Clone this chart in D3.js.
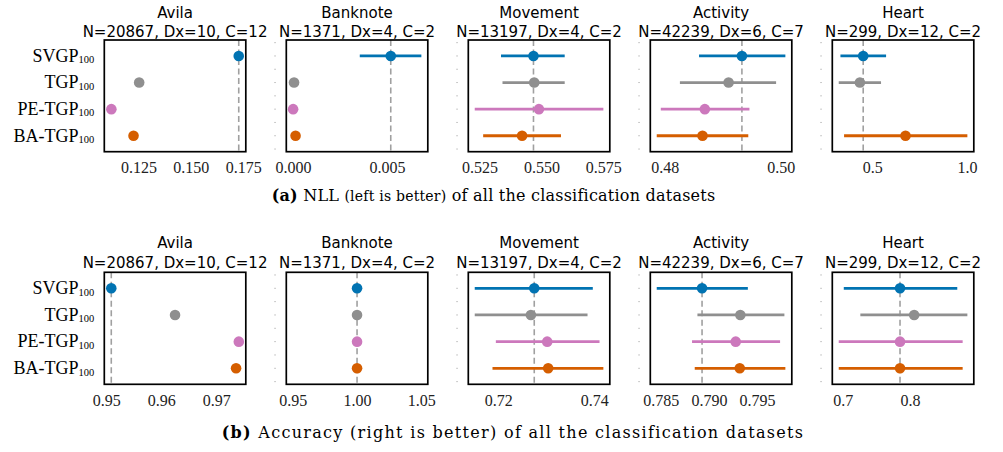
<!DOCTYPE html>
<html>
<head>
<meta charset="utf-8">
<script src="https://cdn.jsdelivr.net/npm/d3@7"></script>
<style>
  body { margin: 0; background: #fff; }
  svg { display: block; }
</style>
</head>
<body>
<svg id="fig" width="1003" height="452"></svg>
<script>
// Methods (rows of every panel) and their colours
const methods = ["SVGP", "TGP", "PE-TGP", "BA-TGP"];
const methodColors = ["#0173b2", "#8f8f8f", "#cc78bc", "#d55e00"];

// Datasets (columns)
const datasets = ["Avila", "Banknote", "Movement", "Activity", "Heart"];
const datasetInfo = [
  "N=20867, Dx=10, C=12",
  "N=1371, Dx=4, C=2",
  "N=13197, Dx=4, C=2",
  "N=42239, Dx=6, C=7",
  "N=299, Dx=12, C=2"
];

// Test NLL: mean and interval ends, per dataset, per method (null = not available)
const nllMean = [
  [0.1729, 0.1253, 0.1120, 0.1226],
  [0.00520, 0.00005, 0.00000, 0.00013],
  [0.5468, 0.5471, 0.5490, 0.5422],
  [0.4933, 0.4910, 0.4869, 0.4865],
  [0.4521, 0.4346, null, 0.6755]
];
const nllLow = [
  [0.1726, 0.1250, 0.1117, 0.1223],
  [0.00355, 0.00003, -0.00002, 0.00011],
  [0.5337, 0.5343, 0.5231, 0.5265],
  [0.4859, 0.4826, 0.4793, 0.4786],
  [0.3319, 0.3229, null, 0.3511]
];
const nllHigh = [
  [0.1732, 0.1256, 0.1123, 0.1229],
  [0.00683, 0.00007, 0.00002, 0.00015],
  [0.5594, 0.5594, 0.5750, 0.5579],
  [0.5008, 0.4992, 0.4946, 0.4944],
  [0.5729, 0.5463, null, 1.0021]
];

// Test accuracy: mean and interval ends, per dataset, per method
const accMean = [
  [0.9509, 0.9625, 0.9741, 0.9736],
  [1.0, 1.0, 1.0, 1.0],
  [0.7275, 0.7268, 0.7302, 0.7304],
  [0.78929, 0.79327, 0.79279, 0.79321],
  [0.7850, 0.8060, 0.7850, 0.7850]
];
const accLow = [
  [0.9508, 0.9624, 0.9740, 0.9735],
  [1.0, 1.0, 1.0, 1.0],
  [0.7151, 0.7151, 0.7195, 0.7188],
  [0.78458, 0.78881, 0.78825, 0.78853],
  [0.7015, 0.7261, 0.6940, 0.6940]
];
const accHigh = [
  [0.9510, 0.9626, 0.9742, 0.9737],
  [1.0, 1.0, 1.0, 1.0],
  [0.7397, 0.7386, 0.7411, 0.7419],
  [0.79405, 0.79785, 0.79740, 0.79795],
  [0.8700, 0.8850, 0.8780, 0.8780]
];

// Tick values and formats of the x axes
const nllTicks = [[0.125, 0.150, 0.175], [0.000, 0.005], [0.525, 0.550, 0.575], [0.48, 0.50], [0.5, 1.0]];
const nllTickFormats = [".3f", ".3f", ".3f", ".2f", ".1f"];
const accTicks = [[0.95, 0.96, 0.97], [0.95, 1.00, 1.05], [0.72, 0.74], [0.785, 0.790, 0.795], [0.7, 0.8]];
const accTickFormats = [".2f", ".2f", ".2f", ".3f", ".1f"];

// Sub-figure captions
const captions = [
  { tag: "(a)", head: "NLL", note: "(left is better)", tail: "of all the classification datasets" },
  { tag: "(b)", head: "Accuracy", note: "(right is better)", tail: "of all the classification datasets" }
];

// ---------------------------------------------------------------------------
const svg = d3.select("#fig");
const SERIF = "'Liberation Serif', 'DejaVu Serif', serif";
const CAPTION_SERIF = "'DejaVu Serif', 'Liberation Serif', serif";
const SANS = "'DejaVu Sans', 'Liberation Sans', sans-serif";

const panelLeft0 = 104.3, panelStep = 182, panelW = 141.5;

const rows = [
  { mean: nllMean, low: nllLow, high: nllHigh, ticks: nllTicks, fmts: nllTickFormats,
    top: 40, h: 111.7, title1: 18.3, title2: 36.6, tickPad: 10, caption: captions[0],
    capX: 271.7, capY: 200.5, capW: 443, noteSize: 14 },
  { mean: accMean, low: accLow, high: accHigh, ticks: accTicks, fmts: accTickFormats,
    top: 272.3, h: 112, title1: 248.3, title2: 268.3, tickPad: 10.8, caption: captions[1],
    capX: 221.7, capY: 437.5, capW: 581, noteSize: 16 }
];

// matplotlib-style autoscaling: expand a degenerate range, then add 5% margins
function autoDomain(lo, hi) {
  let a = d3.min(lo), b = d3.max(hi);
  if (b - a < 1e-12) {
    a -= 0.05 * Math.abs(a);
    b += 0.05 * Math.abs(b);
  }
  const m = (b - a) * 0.05;
  return [a - m, b + m];
}

rows.forEach((row) => {
  const y = d3.scaleLinear().domain([-0.6, 3.6]).range([row.top, row.top + row.h]);

  datasets.forEach((name, di) => {
    const x0 = panelLeft0 + di * panelStep;
    const lo = row.low[di].filter(v => v !== null);
    const hi = row.high[di].filter(v => v !== null);
    const x = d3.scaleLinear().domain(autoDomain(lo, hi)).range([x0, x0 + panelW]);
    const g = svg.append("g");

    // Titles
    g.append("text").attr("x", x0 + panelW / 2).attr("y", row.title1)
      .attr("text-anchor", "middle").attr("font-family", SANS).attr("font-size", 15)
      .attr("fill", "#000").text(name);
    g.append("text").attr("x", x0 + panelW / 2).attr("y", row.title2)
      .attr("text-anchor", "middle").attr("font-family", SANS).attr("font-size", 15)
      .attr("fill", "#000").text(datasetInfo[di]);

    // Faint y tick marks on the shared-axis panels
    if (di > 0) {
      g.selectAll("line.ytick").data(d3.range(-0.5, 3.51, 0.5)).enter()
        .append("line").attr("class", "ytick")
        .attr("x1", x0 - 12).attr("x2", x0 - 10.5)
        .attr("y1", d => y(d)).attr("y2", d => y(d))
        .attr("stroke", "#b8b8b8").attr("stroke-width", 1);
    }

    // Reference line at the SVGP mean
    g.append("line")
      .attr("x1", x(row.mean[di][0])).attr("x2", x(row.mean[di][0]))
      .attr("y1", row.top).attr("y2", row.top + row.h)
      .attr("stroke", "#a0a0a0").attr("stroke-width", 1.6)
      .attr("stroke-dasharray", "6,3.5");

    const pts = methods.map((m, mi) => ({
      mi, mean: row.mean[di][mi], lo: row.low[di][mi], hi: row.high[di][mi]
    })).filter(d => d.mean !== null);

    // Interval bars
    g.selectAll("line.err").data(pts).enter().append("line")
      .attr("x1", d => x(d.lo)).attr("x2", d => x(d.hi))
      .attr("y1", d => y(d.mi)).attr("y2", d => y(d.mi))
      .attr("stroke", d => methodColors[d.mi]).attr("stroke-width", 2.8);

    // Means
    g.selectAll("circle").data(pts).enter().append("circle")
      .attr("cx", d => x(d.mean)).attr("cy", d => y(d.mi)).attr("r", 5.3)
      .attr("fill", d => methodColors[d.mi]);

    // Frame
    g.append("rect").attr("x", x0).attr("y", row.top).attr("width", panelW).attr("height", row.h)
      .attr("fill", "none").attr("stroke", "#000").attr("stroke-width", 1.7);

    // x axis
    const axis = d3.axisBottom(x).tickValues(row.ticks[di])
      .tickFormat(d3.format(row.fmts[di])).tickSize(0).tickPadding(row.tickPad);
    const ax = g.append("g").attr("transform", `translate(0,${row.top + row.h})`).call(axis);
    ax.select(".domain").remove();
    ax.selectAll("text").attr("font-family", SERIF).attr("font-size", 16).attr("fill", "#222");

    // Method labels on the first panel
    if (di === 0) {
      methods.forEach((m, mi) => {
        const t = g.append("text").attr("x", x0 - 10).attr("y", y(mi) + 5.8)
          .attr("text-anchor", "end").attr("font-family", SERIF).attr("fill", "#000");
        t.append("tspan").attr("font-size", 18).text(m);
        t.append("tspan").attr("font-size", 10.5).attr("dy", 1.5).text("100");
      });
    }
  });

  // Caption, spread to the caption's line width
  const c = svg.append("text").attr("x", row.capX).attr("y", row.capY)
    .attr("font-family", CAPTION_SERIF).attr("font-size", 16).attr("fill", "#000");
  c.append("tspan").attr("font-weight", "bold").text(row.caption.tag);
  c.append("tspan").text(" " + row.caption.head + " ");
  c.append("tspan").attr("font-size", row.noteSize).text(row.caption.note);
  c.append("tspan").text(" " + row.caption.tail);
  const natural = c.node().getComputedTextLength();
  const nChars = c.text().length;
  const spacing = Math.max(0, (row.capW - natural) / (nChars - 1));
  c.attr("letter-spacing", spacing.toFixed(2));
});
</script>
</body>
</html>
